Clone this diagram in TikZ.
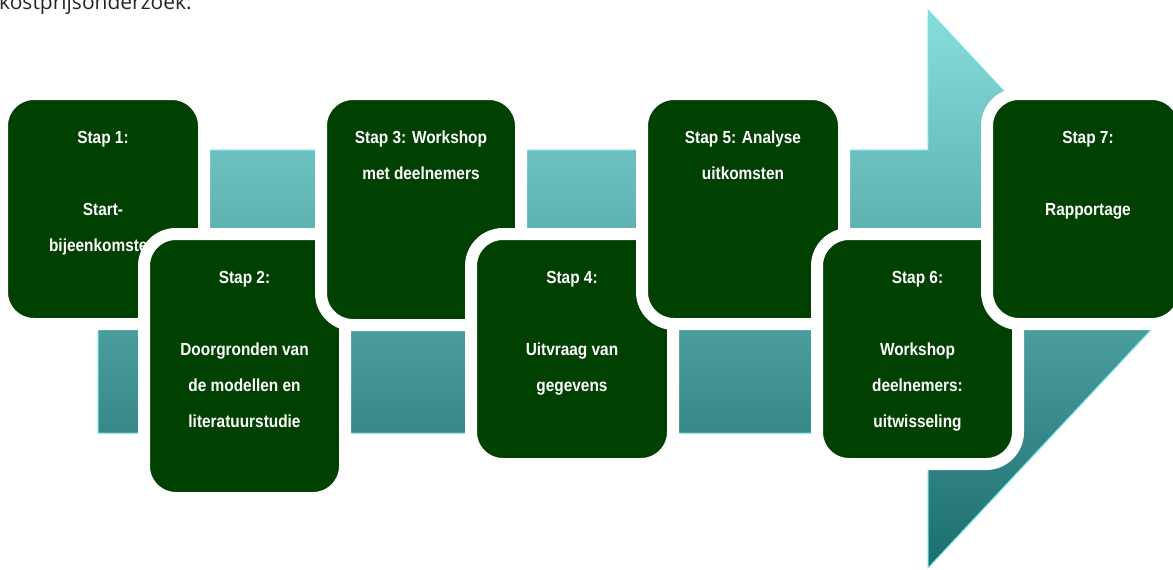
\documentclass[tikz,border=0pt]{standalone}
\usepackage{fontspec}
\newfontfamily\stapfont{Liberation Sans}[FakeStretch=0.88]
\newfontfamily\kopfont{Open Sans}
\usetikzlibrary{positioning}
\definecolor{stapgroen}{HTML}{004000}
\definecolor{pijltop}{HTML}{8ADDDD}
\definecolor{pijlbodem}{HTML}{1C6E6E}
\definecolor{pijlrand}{HTML}{6EE2E6}
\tikzset{
  stapbox/.style={rectangle,rounded corners=32pt,fill=stapgroen,draw=white,
    line width=12pt,inner sep=0pt,outer sep=0pt,
    minimum width=202pt,minimum height=230pt},
  staptekst/.style={text=white,align=center,inner sep=0pt,
    font=\stapfont\bfseries\fontsize{17.5}{36}\selectfont},
}
\begin{document}
\begin{tikzpicture}[x=1pt,y=-1pt]
	\useasboundingbox (0,0) rectangle (1173,570);
	% de grote pijl achter de stappen
	\shade[top color=pijltop,bottom color=pijlbodem,draw=pijlrand,line width=1pt]
		(98,150) -- (928,150) -- (928,10) -- (1189,289) -- (928,568) -- (928,433) -- (98,433) -- cycle;
	\node[anchor=base west,inner sep=0pt,text=black!85,font=\kopfont\fontsize{21}{24}\selectfont] (kop) at (-1,9.5) {kostprijsonderzoek:};
	% stappen, elke volgende ligt over de vorige
	\node[stapbox] (s1) at (103,209) {};
	\node[staptekst,below=37pt of s1.north] (t1) {Stap 1:\\[36pt]Start-\\bijeenkomsten};
	\node[stapbox,minimum width=201pt,minimum height=264pt] (s2) at (244.5,366) {};
	\node[staptekst,below=37pt of s2.north] (t2) {Stap 2:\\[36pt]Doorgronden van\\de modellen en\\literatuurstudie};
	\node[stapbox,minimum width=200pt,minimum height=231pt] (s3) at (421,209.5) {};
	\node[staptekst,below=37pt of s3.north] (t3) {Stap 3: Workshop\\met deelnemers};
	\node[stapbox] (s4) at (572,349) {};
	\node[staptekst,below=37pt of s4.north] (t4) {Stap 4:\\[36pt]Uitvraag van\\gegevens};
	\node[stapbox] (s5) at (743,209) {};
	\node[staptekst,below=37pt of s5.north] (t5) {Stap 5: Analyse\\uitkomsten};
	\node[stapbox,minimum width=201pt] (s6) at (917.5,349) {};
	\node[staptekst,below=37pt of s6.north] (t6) {Stap 6:\\[36pt]Workshop\\deelnemers:\\uitwisseling};
	\node[stapbox,minimum width=197pt] (s7) at (1085.5,209) {};
	\node[staptekst,below=37pt of s7.north,xshift=2.5pt] (t7) {Stap 7:\\[36pt]Rapportage};
\end{tikzpicture}
\end{document}
